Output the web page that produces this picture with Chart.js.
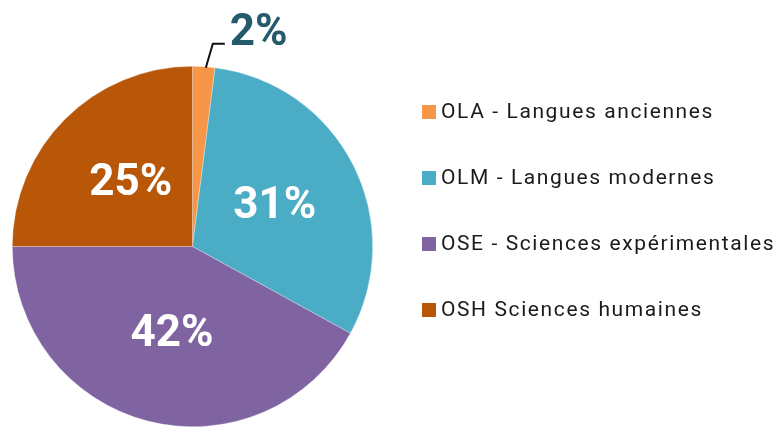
<!DOCTYPE html>
<html>
<head>
<meta charset="utf-8">
<script src="https://cdn.jsdelivr.net/npm/chart.js@4/dist/chart.umd.min.js"></script>
<style>
html,body{margin:0;padding:0;background:#fff;}
#wrap{width:779px;height:427px;position:relative;overflow:hidden;}
</style>
</head>
<body>
<div id="wrap"><canvas id="c" width="779" height="427"></canvas></div>
<script>
const categories = ['OLA - Langues anciennes', 'OLM - Langues modernes', 'OSE - Sciences expérimentales', 'OSH Sciences humaines'];
const shares = [2, 31, 42, 25];
const sliceColors = ['#F79646', '#4BACC6', '#8064A2', '#B85708'];

const labelPlugin = {
  id: 'sliceLabels',
  afterDatasetsDraw(chart) {
    const ctx = chart.ctx;
    const meta = chart.getDatasetMeta(0);
    meta.data.forEach((arc, i) => {
      const v = chart.data.datasets[0].data[i];
      const txt = v + '%';
      ctx.save();
      ctx.font = 'bold 44px Roboto';
      if (v < 5) {
        const mid = (arc.startAngle + arc.endAngle) / 2;
        const ex = arc.x + Math.cos(mid) * arc.outerRadius;
        const ey = arc.y + Math.sin(mid) * arc.outerRadius;
        const bx = ex + 9, by = ey - 23;
        ctx.strokeStyle = '#111';
        ctx.lineWidth = 2;
        ctx.beginPath();
        ctx.moveTo(ex + 2, ey + 1);
        ctx.lineTo(bx, by);
        ctx.lineTo(bx + 12, by);
        ctx.stroke();
        ctx.fillStyle = '#235B6B';
        ctx.textAlign = 'left';
        ctx.textBaseline = 'alphabetic';
        ctx.fillText(txt, bx + 17, by + 1);
      } else {
        const p = arc.getCenterPoint();
        ctx.fillStyle = '#ffffff';
        ctx.textAlign = 'center';
        ctx.textBaseline = 'middle';
        ctx.fillText(txt, p.x + 2, p.y + 1);
      }
      ctx.restore();
    });
  }
};

const legendPlugin = {
  id: 'sideLegend',
  afterDraw(chart) {
    const ctx = chart.ctx;
    const labels = chart.data.labels;
    const colors = chart.data.datasets[0].backgroundColor;
    ctx.save();
    ctx.font = '21px Roboto';
    ctx.letterSpacing = '1.6px';
    ctx.textBaseline = 'middle';
    ctx.textAlign = 'left';
    labels.forEach((lab, i) => {
      const cy = 112 + i * 66;
      ctx.fillStyle = colors[i];
      ctx.fillRect(422, cy - 7, 14, 14);
      ctx.fillStyle = '#1a1a1a';
      ctx.fillText(lab, 441, cy + 1);
    });
    ctx.restore();
  }
};

new Chart(document.getElementById('c'), {
  type: 'pie',
  data: {
    labels: categories,
    datasets: [{
      data: shares,
      backgroundColor: sliceColors,
      borderColor: 'rgba(255,255,255,0.5)',
      borderWidth: 0.6
    }]
  },
  options: {
    responsive: false,
    animation: false,
    layout: { padding: { left: 12, top: 66, right: 406, bottom: 0 } },
    plugins: { legend: { display: false }, tooltip: { enabled: false } }
  },
  plugins: [labelPlugin, legendPlugin]
});
</script>
</body>
</html>
